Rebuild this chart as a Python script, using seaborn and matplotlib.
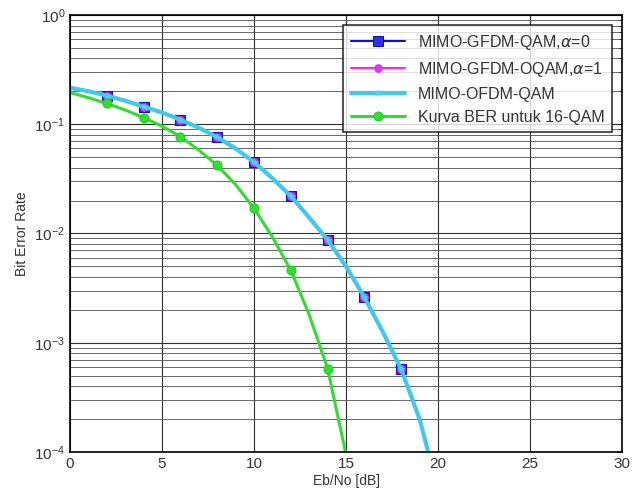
import matplotlib
matplotlib.use("Agg")
import matplotlib.pyplot as plt
import seaborn as sns
import pandas as pd
import numpy as np

ebno = list(range(0, 21))
ber_gfdm = [0.216, 0.200, 0.183, 0.164, 0.145, 0.128, 0.110, 0.093, 0.076, 0.060,
            0.045, 0.032, 0.022, 0.014, 0.0087, 0.0050, 0.0026, 0.00126, 0.00057,
            0.00020, 0.000045]
ebno_qam = list(range(0, 16))
ber_qam = [0.195, 0.175, 0.155, 0.135, 0.115, 0.096, 0.077, 0.058, 0.042, 0.028,
           0.017, 0.0093, 0.0046, 0.0018, 0.00058, 0.000095]

labels = ["MIMO-GFDM-QAM,$\\alpha$=0", "MIMO-GFDM-OQAM,$\\alpha$=1",
          "MIMO-OFDM-QAM", "Kurva BER untuk 16-QAM"]

df = pd.DataFrame({"x": ebno, "y": ber_gfdm})
dq = pd.DataFrame({"x": ebno_qam, "y": ber_qam})

sns.set_style("white")
plt.rcParams["font.family"] = ["Liberation Sans", "DejaVu Sans"]

fig = plt.figure(figsize=(6.32, 5.01), dpi=100)
ax = fig.add_axes([0.1108, 0.0978, 0.8734, 0.8723])

mk = slice(2, None, 2)
sns.lineplot(data=df, x="x", y="y", ax=ax, color="#1010d0", lw=1.5, marker="s",
             markersize=6.5, markerfacecolor="#3030e0", markeredgecolor="#1010d0",
             markevery=mk, label=labels[0])
sns.lineplot(data=df, x="x", y="y", ax=ax, color="#ff20ff", lw=1.5, marker="o",
             markersize=5.5, markerfacecolor="#d040e0", markeredgecolor="#ff20ff",
             markevery=mk, label=labels[1])
sns.lineplot(data=df, x="x", y="y", ax=ax, color="#40c8ee", lw=3, marker="*",
             markersize=4, markerfacecolor="#40d8ff", markeredgecolor="#40d8ff",
             markevery=mk, label=labels[2])
sns.lineplot(data=dq, x="x", y="y", ax=ax, color="#30dd30", lw=2.2, marker="o",
             markersize=6.5, markerfacecolor="#30dd30", markeredgecolor="#20cc20",
             markevery=mk, label=labels[3])

ax.set_yscale("log")
ax.set_xlim(0, 30)
ax.set_ylim(1e-4, 1)
ax.set_xticks([0, 5, 10, 15, 20, 25, 30])
ax.grid(True, which="major", color="#303030", lw=0.8)
ax.grid(True, which="minor", axis="y", color="#505050", lw=0.6)
ax.tick_params(which="both", direction="in", top=True, right=True,
               labelsize=11, labelcolor="#333333")
for s in ax.spines.values():
    s.set_color("black")
    s.set_linewidth(1.2)
ax.set_xlabel("Eb/No [dB]", fontsize=10, color="#333333", labelpad=2)
ax.set_ylabel("Bit Error Rate", fontsize=10, color="#333333", labelpad=4)

leg = ax.legend(loc="upper right", fontsize=11.5, frameon=True, fancybox=False,
                handlelength=3.4, borderaxespad=0.6, labelspacing=0.5,
                borderpad=0.5)
leg.get_frame().set_edgecolor("black")
leg.get_frame().set_linewidth(1.2)
for t in leg.get_texts():
    t.set_color("#333333")

fig.savefig("out.png", dpi=100)
